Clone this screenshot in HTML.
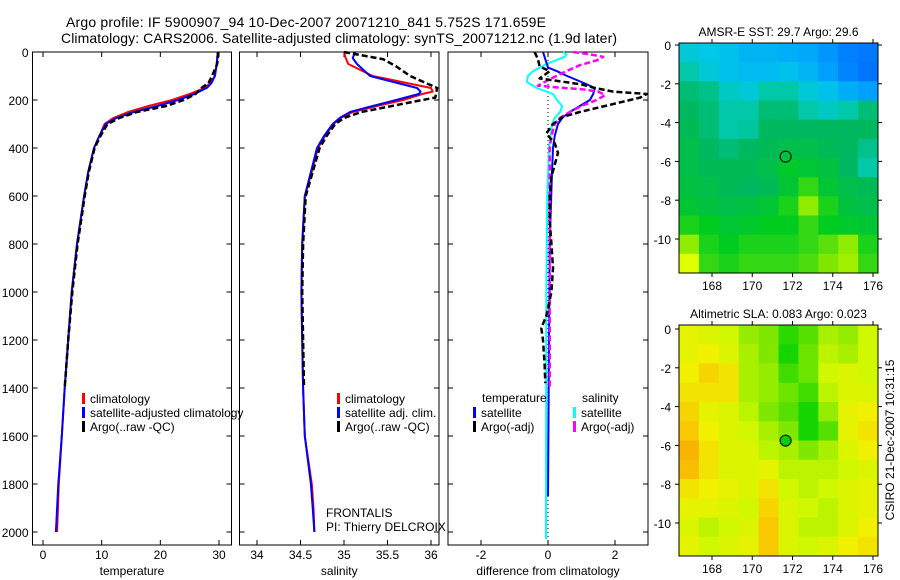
<!DOCTYPE html>
<html><head><meta charset="utf-8"><style>
html,body{margin:0;padding:0;background:#fff;}
svg{display:block;font-family:"Liberation Sans",sans-serif;}
</style></head><body>
<svg id="fig" width="900" height="580" viewBox="0 0 900 580" xmlns="http://www.w3.org/2000/svg">
<text x="66" y="27" font-size="14" textLength="480">Argo profile: IF 5900907_94 10-Dec-2007 20071210_841 5.752S 171.659E</text>
<text x="61" y="43" font-size="14" textLength="556">Climatology: CARS2006. Satellite-adjusted climatology: synTS_20071212.nc (1.9d later)</text>
<g id="root"></g>
</svg>
<script>
// ---------- data ----------
const tDepth = [0,50,100,130,150,175,200,225,250,275,300,350,400,500,600,800,1000,1200,1400,1600,1800,2000];
const tClim  = [29.8,29.6,29.3,28.5,27.5,25,22,18,14.5,12,10.5,9.6,8.7,7.7,7.0,5.8,4.9,4.3,3.7,3.2,2.7,2.4];
const tSat   = [29.8,29.6,29.3,28.7,27.9,25.8,23,19.5,15.5,12.5,10.7,9.6,8.7,7.7,7.0,5.8,4.9,4.3,3.7,3.2,2.6,2.2];
const tArgo  = [29.9,29.7,28.8,28.2,27,26,24,21,16,13,11,9.8,8.8,7.8,7.1,5.9,5.0,4.3,3.7];
const sDepth = [0,25,50,100,150,165,175,200,225,250,275,300,350,400,500,600,800,1000,1200,1400,1600,1800,1900,2000];
const sClim  = [35.0,35.02,35.05,35.33,36.0,36.02,35.9,35.68,35.38,35.1,34.96,34.88,34.78,34.70,34.63,34.55,34.52,34.51,34.52,34.53,34.55,34.63,34.65,34.66];
const sSat   = [35.13,35.1,35.15,35.3,35.84,35.88,35.86,35.6,35.33,35.07,34.95,34.87,34.77,34.69,34.62,34.55,34.52,34.51,34.52,34.53,34.55,34.62,34.64,34.66];
const aDepth = [0,30,60,100,150,190,200,225,250,275,300,350,400,500,600,800,1000,1200,1400];
const sArgo  = [35.0,35.45,35.6,35.76,36.07,36.05,35.9,35.55,35.2,35.0,34.9,34.8,34.72,34.64,34.56,34.53,34.52,34.53,34.54];
const dtDepth = [0,65,80,100,125,150,175,200,225,250,275,300,350,400,500,800,1200,1850];
const dtSat   = [-0.15,0,0.27,0.57,1.0,1.4,1.35,1.25,0.95,0.65,0.42,0.3,0.2,0.15,0.12,0.05,0.03,0];
const dtArgoDepth = [0,30,60,80,110,135,150,165,175,190,210,230,250,270,300,340,380,420,470,520,600,700,800,900,1000,1100,1150,1200,1300,1380];
const dtArgo = [-0.4,-0.3,-0.25,0.05,-0.25,1.0,1.4,1.95,2.95,2.75,2.15,1.55,0.95,0.45,0.15,-0.05,0.2,0.3,0.2,0.1,0.05,0.05,0.1,0.15,0.1,-0.05,-0.2,-0.15,-0.1,-0.08];
const dsDepth = [0,10,20,50,80,100,125,150,175,200,225,250,275,300,400,600,1000,2030];
const dsSat   = [0.45,0.55,0.5,-0.05,-0.45,-0.6,-0.63,-0.33,0.15,0.27,0.42,0.36,0.2,0.12,0.03,-0.02,-0.05,-0.06];
const dsArgoDepth = [0,10,20,35,55,80,110,140,148,155,165,180,200,225,250,275,300,350,400,500,800,1100,1400];
const dsArgo = [0.75,1.25,1.65,1.45,0.95,0.55,0.1,-0.3,0.3,1.0,1.5,1.7,1.45,1.0,0.65,0.35,0.2,0.1,0.05,0.05,0.05,0.05,0.05];
const depthTicks = [0,200,400,600,800,1000,1200,1400,1600,1800,2000];
const tTicks = [0,10,20,30];
const sTicks = [34,34.5,35,35.5,36];
const dTicks = [-2,0,2];
const latTicks = [0,-2,-4,-6,-8,-10];
const lonTicks = [168,170,172,174,176];
const sstGrid = [
[0.5,0.48,0.47,0.45,0.45,0.44,0.43,0.40,0.36,0.35],
[0.55,0.5,0.47,0.46,0.46,0.47,0.45,0.42,0.37,0.34],
[0.6,0.58,0.52,0.5,0.55,0.55,0.5,0.47,0.44,0.42],
[0.62,0.6,0.55,0.55,0.6,0.6,0.55,0.52,0.55,0.6],
[0.63,0.6,0.55,0.56,0.62,0.62,0.62,0.62,0.62,0.62],
[0.64,0.62,0.6,0.62,0.63,0.64,0.64,0.63,0.62,0.58],
[0.64,0.63,0.63,0.63,0.64,0.67,0.66,0.65,0.62,0.55],
[0.65,0.64,0.63,0.62,0.63,0.66,0.72,0.66,0.64,0.63],
[0.66,0.65,0.64,0.65,0.66,0.7,0.8,0.7,0.65,0.64],
[0.7,0.68,0.66,0.67,0.68,0.68,0.72,0.68,0.67,0.66],
[0.8,0.7,0.68,0.7,0.7,0.7,0.72,0.75,0.8,0.7],
[0.9,0.72,0.7,0.72,0.72,0.72,0.74,0.78,0.82,0.72]];
const slaGrid = [
[0.6,0.55,0.5,0.35,0.3,0.1,0.2,0.4,0.35,0.5],
[0.6,0.65,0.55,0.4,0.3,0.05,0.25,0.45,0.4,0.5],
[0.65,0.75,0.7,0.4,0.35,0.15,0.25,0.5,0.55,0.5],
[0.7,0.7,0.7,0.4,0.35,0.25,0.15,0.45,0.55,0.55],
[0.75,0.6,0.55,0.45,0.3,0.2,0.05,0.35,0.6,0.65],
[0.8,0.65,0.55,0.5,0.4,0.3,0.05,0.2,0.6,0.7],
[0.9,0.7,0.55,0.55,0.45,0.4,0.3,0.4,0.55,0.65],
[0.85,0.7,0.55,0.55,0.6,0.45,0.45,0.45,0.5,0.55],
[0.7,0.65,0.6,0.55,0.7,0.5,0.45,0.5,0.55,0.6],
[0.6,0.6,0.55,0.5,0.75,0.55,0.5,0.45,0.55,0.6],
[0.55,0.45,0.5,0.55,0.8,0.55,0.45,0.45,0.55,0.65],
[0.6,0.5,0.55,0.6,0.8,0.55,0.5,0.55,0.65,0.7]];
const argoLon = 171.659, argoLat = -5.752;

// ---------- helpers ----------
const NS="http://www.w3.org/2000/svg";
const root=document.getElementById('root');
function mk(tag,attrs,parent){const e=document.createElementNS(NS,tag);for(const k in attrs)e.setAttribute(k,attrs[k]);(parent||root).appendChild(e);return e;}
function lin(d0,d1,r0,r1){return v=>r0+(v-d0)*(r1-r0)/(d1-d0);}
const yD = lin(0,2000,52,532);

function panel(name,x0,x1,xs,xticks,xlabel,showDepth){
  const g=mk('g',{});
  
  
  const fr=mk('rect',{x:x0,y:52,width:x1-x0,height:493,fill:'none',stroke:'#000','stroke-width':1},g);
  
  
  depthTicks.forEach(d=>{
    const y=yD(d);
    mk('line',{x1:x0,x2:x0+5,y1:y,y2:y,stroke:'#000'},g);
    mk('line',{x1:x1-5,x2:x1,y1:y,y2:y,stroke:'#000'},g);
    if(showDepth){const t=mk('text',{x:x0-4,y:y+5,'font-size':12,'text-anchor':'end'},g);t.textContent=d;
      
      }
  });
  xticks.forEach(v=>{
    const x=xs(v);
    mk('line',{x1:x,x2:x,y1:545,y2:540,stroke:'#000'},g);
    mk('line',{x1:x,x2:x,y1:52,y2:57,stroke:'#000'},g);
    const t=mk('text',{x:x,y:559,'font-size':12,'text-anchor':'middle'},g);t.textContent=v;
    
    
  });
  const lab=mk('text',{x:(x0+x1)/2,y:575,'font-size':12,'text-anchor':'middle'},g);lab.textContent=xlabel;
  
  
  return g;
}
function series(g,xs,depths,vals,color,dash,w,name){
  const pts=vals.map((v,i)=>xs(v).toFixed(1)+','+yD(depths[i]).toFixed(1)).join(' ');
  const p=mk('polyline',{points:pts,fill:'none',stroke:color,'stroke-width':w,'stroke-dasharray':dash||'none','stroke-linejoin':'round'},g);
  
  
}
function legend(g,x,y,color,label,name){
  mk('rect',{x:x,y:y-9,width:3,height:11,fill:color},g);
  const t=mk('text',{x:x+8,y:y+1,'font-size':12},g);t.textContent=label;
  
  
}

// temperature panel
const xT=lin(0,30,43,219);
const g1=panel('temperature-panel',32.5,231.5,xT,tTicks,'temperature',true);
series(g1,xT,tDepth,tClim,'#f00',null,2,'temp-climatology-line');
series(g1,xT,tDepth,tSat,'#00f',null,2,'temp-satellite-line');
series(g1,xT,tDepth.slice(0,tArgo.length),tArgo,'#000','6,3',2.5,'temp-argo-line');
legend(g1,82,402,'#f00','climatology','legend-climatology');
legend(g1,82,416,'#00f','satellite-adjusted climatology','legend-satellite');
legend(g1,82,430,'#000','Argo(..raw -QC)','legend-argo');

// salinity panel
const xS=lin(34,36,257,431);
const g2=panel('salinity-panel',239.5,439,xS,sTicks,'salinity',false);
series(g2,xS,sDepth,sClim,'#f00',null,2,'sal-climatology-line');
series(g2,xS,sDepth,sSat,'#00f',null,2,'sal-satellite-line');
series(g2,xS,aDepth,sArgo,'#000','6,3',2.5,'sal-argo-line');
legend(g2,337,402,'#f00','climatology','legend-climatology');
legend(g2,337,416,'#00f','satellite adj. clim.','legend-satellite');
legend(g2,337,430,'#000','Argo(..raw -QC)','legend-argo');
const f1=mk('text',{x:326,y:517,'font-size':12},g2);f1.textContent='FRONTALIS';

const f2=mk('text',{x:326,y:531,'font-size':12},g2);f2.textContent='PI: Thierry DELCROIX';


// difference panel
const xDf=lin(0,2,548,615);
const g3=panel('difference-panel',448,648,xDf,dTicks,'difference from climatology',false);
mk('line',{x1:xDf(0),x2:xDf(0),y1:52,y2:545,stroke:'#000','stroke-dasharray':'1,3'},g3);
series(g3,xDf,dsDepth,dsSat,'#0ff',null,2,'sal-diff-satellite-line');
series(g3,xDf,dtDepth,dtSat,'#00f',null,2,'temp-diff-satellite-line');
series(g3,xDf,dsArgoDepth,dsArgo,'#f0f','6,3',2.5,'sal-diff-argo-line');
series(g3,xDf,dtArgoDepth,dtArgo,'#000','6,3',2.5,'temp-diff-argo-line');
const lt=mk('text',{x:482,y:402,'font-size':12},g3);lt.textContent='temperature';

const ls=mk('text',{x:582,y:402,'font-size':12},g3);ls.textContent='salinity';

legend(g3,473,416,'#00f','satellite','legend-temp-satellite');
legend(g3,473,430,'#000','Argo(-adj)','legend-temp-argo');
legend(g3,573,416,'#0ff','satellite','legend-sal-satellite');
legend(g3,573,430,'#f0f','Argo(-adj)','legend-sal-argo');

// maps
function rgb(a){return 'rgb('+a.join(',')+')';}
function cmap(stops,v){
  if(v<=stops[0][0])return rgb(stops[0][1]);
  for(let i=1;i<stops.length;i++){if(v<=stops[i][0]){const a=stops[i-1],b=stops[i],t=(v-a[0])/(b[0]-a[0]);
    return rgb(a[1].map((c,k)=>Math.round(c+(b[1][k]-c)*t)));}}
  return rgb(stops[stops.length-1][1]);
}
const sstStops=[[0.33,[0,110,255]],[0.42,[0,160,255]],[0.48,[0,200,232]],[0.55,[0,200,168]],[0.62,[0,184,96]],[0.68,[0,204,32]],[0.78,[128,232,0]],[0.9,[224,255,0]],[1.0,[255,192,0]]];
const slaStops=[[0,[0,208,0]],[0.3,[128,232,0]],[0.5,[208,248,0]],[0.65,[240,240,0]],[0.8,[248,200,0]],[1.0,[248,160,0]]];
function mapPanel(name,top,bottom,lat0y,lat10y,grid,stops,title,filled){
  const x0=679,x1=878;
  const xL=lin(168,176,712,873), yL=lin(0,-10,lat0y,lat10y);
  const g=mk('g',{});
  
  
  const rows=grid.length, cols=grid[0].length;
  const ch=(bottom-top)/rows, cw=(x1-x0)/cols;
  grid.forEach((row,r)=>row.forEach((v,c)=>{
    const cell=mk('rect',{x:x0+c*cw,y:top+r*ch,width:cw+0.5,height:ch+0.5,fill:cmap(stops,v)},g);
    
    
  }));
  mk('rect',{x:x0,y:top,width:x1-x0,height:bottom-top,fill:'none',stroke:'#000'},g);
  latTicks.forEach(v=>{const y=yL(v);
    mk('line',{x1:x0-4,x2:x0,y1:y,y2:y,stroke:'#000'},g);
    mk('line',{x1:x1,x2:x1+4,y1:y,y2:y,stroke:'#000'},g);
    const t=mk('text',{x:x0-8,y:y+5,'font-size':12,'text-anchor':'end'},g);t.textContent=v;
    });
  lonTicks.forEach(v=>{const x=xL(v);
    mk('line',{x1:x,x2:x,y1:top-4,y2:top,stroke:'#000'},g);
    mk('line',{x1:x,x2:x,y1:bottom,y2:bottom+4,stroke:'#000'},g);
    const t=mk('text',{x:x,y:bottom+17,'font-size':12,'text-anchor':'middle'},g);t.textContent=v;
    });
  const tt=mk('text',{x:(x0+x1)/2,y:top-7,'font-size':12,'text-anchor':'middle'},g);tt.textContent=title;
  
  const m=mk('circle',{cx:xL(argoLon),cy:yL(argoLat),r:5.5,fill:filled?'#00d000':'none',stroke:'#000','stroke-width':1},g);
  
  
}
mapPanel('sst-map',43,273,45,239,sstGrid,sstStops,'AMSR-E SST: 29.7 Argo: 29.6',false);
mapPanel('sla-map',325,556,329,523,slaGrid,slaStops,'Altimetric SLA: 0.083 Argo: 0.023',true);
const cs=mk('text',{x:0,y:0,'font-size':12,'text-anchor':'middle',transform:'translate(894,440) rotate(-90)'});
cs.textContent='CSIRO 21-Dec-2007 10:31:15';


</script>
</body></html>
